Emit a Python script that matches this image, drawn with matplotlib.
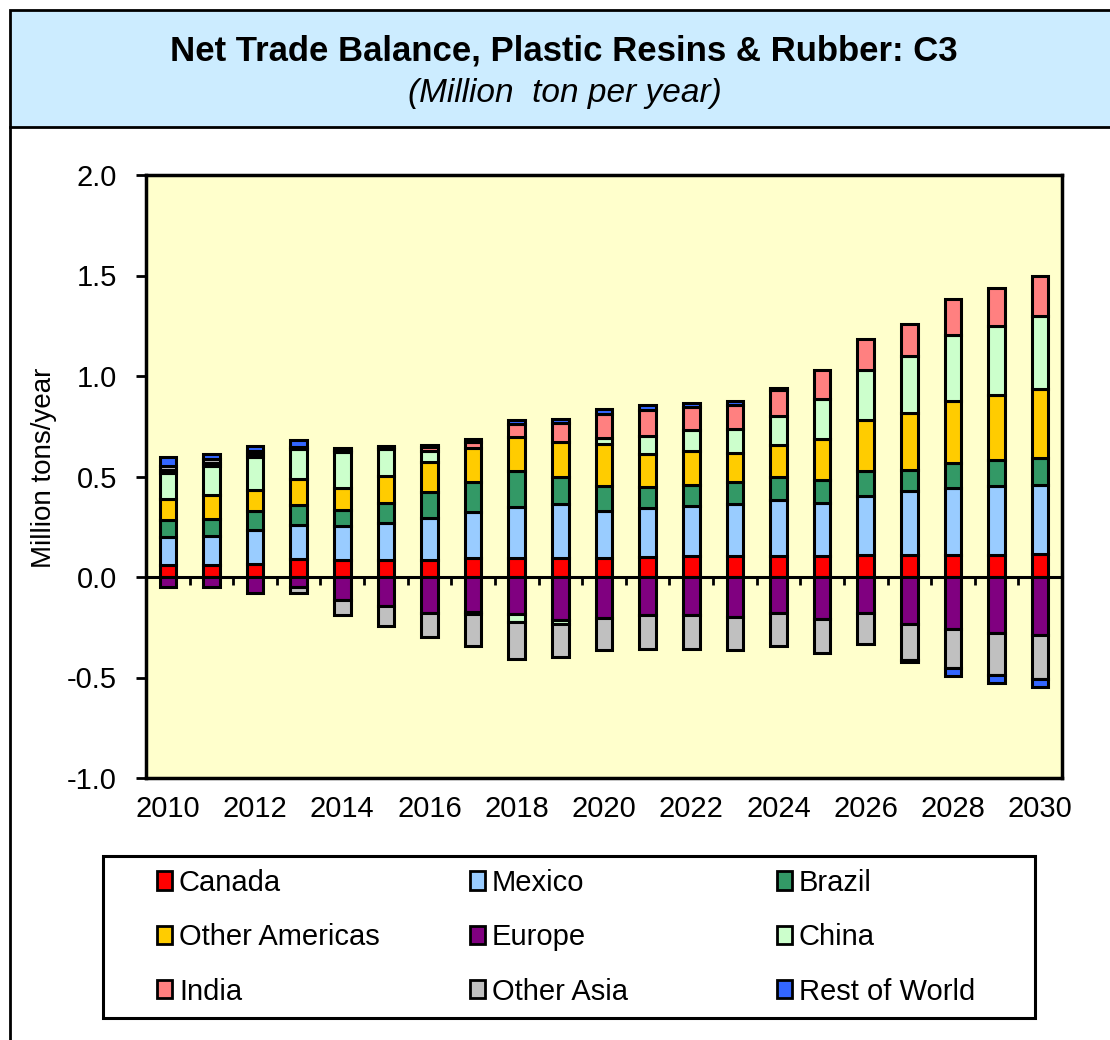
import numpy as np
import matplotlib
matplotlib.use("Agg")
import matplotlib.pyplot as plt
from matplotlib.patches import Patch, Rectangle
from matplotlib.lines import Line2D
from matplotlib.ticker import FormatStrFormatter

plt.rcParams['font.family'] = ['Liberation Sans', 'DejaVu Sans']
plt.rcParams['axes.unicode_minus'] = False

years = list(range(2010, 2031))
series = ['Canada', 'Mexico', 'Brazil', 'Other Americas', 'Europe',
          'China', 'India', 'Other Asia', 'Rest of World']
colors = ['#FF0000', '#99CCFF', '#339966', '#FFCC00', '#800080',
          '#CCFFCC', '#FF8080', '#C0C0C0', '#3366FF']

canada = [0.058, 0.058, 0.066, 0.088, 0.083, 0.083, 0.086, 0.095, 0.095, 0.095, 0.095,
          0.100, 0.103, 0.103, 0.103, 0.106, 0.111, 0.111, 0.111, 0.111, 0.116]
mexico = [0.141, 0.144, 0.166, 0.172, 0.171, 0.186, 0.209, 0.227, 0.253, 0.270, 0.232,
          0.243, 0.249, 0.262, 0.282, 0.262, 0.290, 0.315, 0.332, 0.343, 0.343]
brazil = [0.086, 0.088, 0.096, 0.097, 0.078, 0.099, 0.128, 0.149, 0.178, 0.133, 0.127,
          0.105, 0.107, 0.106, 0.111, 0.116, 0.125, 0.105, 0.124, 0.130, 0.133]
other_americas = [0.101, 0.116, 0.106, 0.129, 0.112, 0.134, 0.149, 0.171, 0.171, 0.172, 0.208,
                  0.164, 0.166, 0.146, 0.159, 0.203, 0.253, 0.285, 0.307, 0.323, 0.343]
europe = [-0.050, -0.050, -0.080, -0.050, -0.116, -0.144, -0.179, -0.176, -0.182, -0.216, -0.204,
          -0.187, -0.187, -0.200, -0.179, -0.207, -0.179, -0.232, -0.259, -0.279, -0.287]
china = [0.133, 0.146, 0.165, 0.149, 0.178, 0.136, 0.053, -0.010, -0.044, -0.016, 0.030,
         0.088, 0.105, 0.119, 0.145, 0.199, 0.249, 0.285, 0.332, 0.343, 0.362]
india = [0.015, 0.015, 0.015, 0.010, 0.012, 0.008, 0.020, 0.030, 0.064, 0.096, 0.121,
         0.133, 0.116, 0.121, 0.132, 0.142, 0.156, 0.159, 0.177, 0.188, 0.201]
other_asia = [0.020, 0.020, 0.015, -0.030, -0.071, -0.101, -0.121, -0.155, -0.182, -0.166, -0.158,
              -0.171, -0.171, -0.165, -0.166, -0.171, -0.154, -0.183, -0.194, -0.207, -0.220]
rest_of_world = [0.045, 0.027, 0.024, 0.035, 0.008, 0.005, 0.010, 0.015, 0.022, 0.022, 0.022,
                 0.022, 0.020, 0.018, 0.008, 0.0, 0.0, -0.010, -0.038, -0.041, -0.040]

data = [canada, mexico, brazil, other_americas, europe, china, india, other_asia, rest_of_world]

fig = plt.figure(figsize=(11.1, 10.4), dpi=100)

# title box and outer frame
fig.add_artist(Rectangle((10 / 1110, 1 - 127 / 1040), 1.1, 117 / 1040, transform=fig.transFigure,
                         facecolor='#CCECFF', edgecolor='black', linewidth=2, zorder=0))
fig.add_artist(Line2D([10 / 1110, 10 / 1110], [0, 1 - 127 / 1040], transform=fig.transFigure,
                      color='black', linewidth=2))
fig.text(0.508, 0.951, 'Net Trade Balance, Plastic Resins & Rubber: C3', ha='center', va='center',
         fontsize=25, fontweight='bold')
fig.text(0.509, 0.910, '(Million  ton per year)', ha='center', va='center',
         fontsize=24, style='italic')

ax = fig.add_axes([146 / 1110, 1 - 778 / 1040, 916 / 1110, 603 / 1040])
ax.set_facecolor('#FFFFCC')

x = np.arange(len(years))
pos_bottom = np.zeros(len(years))
neg_bottom = np.zeros(len(years))
for name, vals, col in zip(series, data, colors):
    v = np.array(vals)
    pos = np.where(v > 0, v, 0)
    neg = np.where(v < 0, v, 0)
    m = pos > 0
    ax.bar(x[m], pos[m], bottom=pos_bottom[m], width=0.38, color=col,
           edgecolor='black', linewidth=2.2, zorder=2)
    m = neg < 0
    ax.bar(x[m], neg[m], bottom=neg_bottom[m], width=0.38, color=col,
           edgecolor='black', linewidth=2.2, zorder=2)
    pos_bottom += pos
    neg_bottom += neg

ax.set_xlim(-0.5, len(years) - 0.5)
ax.set_ylim(-1.0, 2.0)
ax.set_yticks(np.arange(-1.0, 2.01, 0.5))
ax.yaxis.set_major_formatter(FormatStrFormatter('%.1f'))
ax.set_xticks(x[::2])
ax.set_xticklabels([str(y) for y in years[::2]])
ax.tick_params(axis='x', length=0, pad=12, labelsize=21)
ax.tick_params(axis='y', length=7, width=2, direction='out', pad=14, labelsize=21)
for s in ax.spines.values():
    s.set_linewidth(2.5)
    s.set_color('black')
ax.set_ylabel('Million tons/year', fontsize=20)
ax.yaxis.set_label_coords(-0.097, 0.514)

# zero line with category boundary ticks
zero = ax.secondary_xaxis(1 / 3)
zero.set_xticks(np.arange(0.5, len(years) - 0.5, 1))
zero.tick_params(length=6, width=2, direction='out', labelbottom=False)
zero.spines['bottom'].set_linewidth(2.2)

# legend (three columns, row-major order like the original)
handles = [Patch(facecolor=c, edgecolor='black', linewidth=2) for c in colors]
col_x = [157 / 1110, 470 / 1110, 777 / 1110]
for k in range(3):
    idx = [k, k + 3, k + 6]
    fig.legend([handles[i] for i in idx], [series[i] for i in idx], loc='upper left',
               bbox_to_anchor=(col_x[k], 1 - 869 / 1040), frameon=False, fontsize=21,
               handlelength=0.5, handleheight=0.6, handletextpad=0.25,
               labelspacing=0.9, borderpad=0, borderaxespad=0)
fig.add_artist(Rectangle((103 / 1110, 1 - 1018 / 1040), 932 / 1110, 162 / 1040,
                         transform=fig.transFigure, facecolor='none', edgecolor='black',
                         linewidth=2.2))

fig.savefig('out.png', dpi=100)
